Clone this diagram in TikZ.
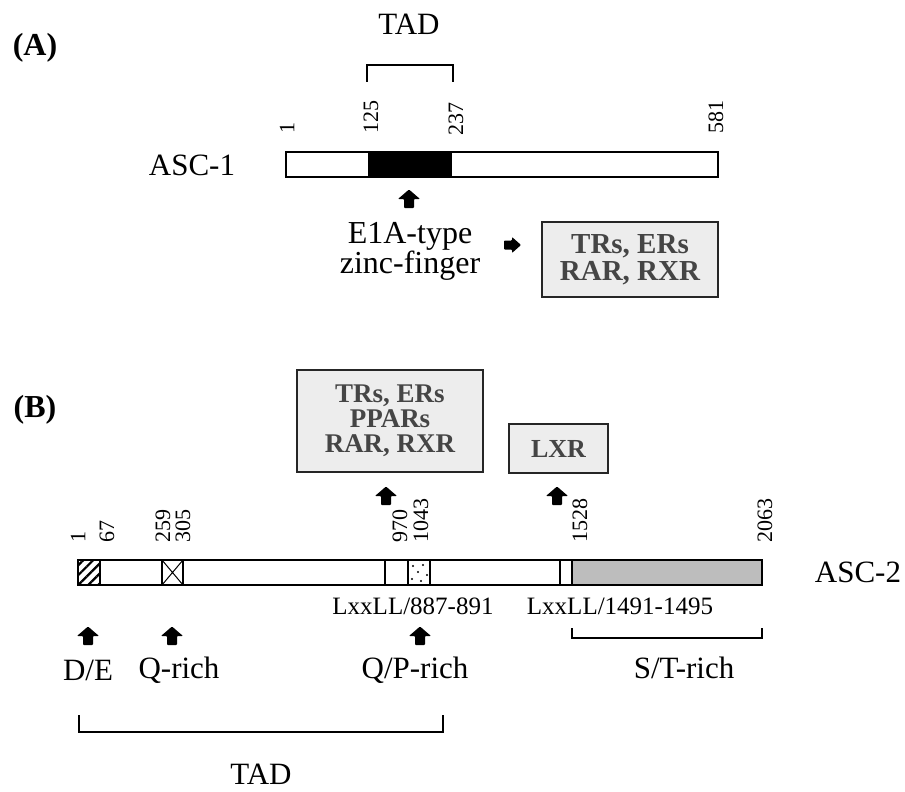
\documentclass[tikz,border=0pt]{standalone}
\usepackage{fontspec}
\setmainfont{Liberation Serif}
\usetikzlibrary{patterns.meta}
\definecolor{boxtext}{HTML}{454545}
\definecolor{boxfill}{HTML}{EDEDED}
\definecolor{stfill}{HTML}{BDBDBD}
\tikzset{
  lbl/.style={inner sep=0pt, font=\fontsize{31}{31}\selectfont},
  num/.style={inner sep=0pt, rotate=90, anchor=west, font=\fontsize{22}{22}\selectfont},
  part/.style={inner sep=0pt, font=\fontsize{32}{32}\bfseries\selectfont},
  bar/.style={draw=black, line width=2pt},
  brk/.style={draw=black, line width=1.8pt},
  recbox/.style={draw=black!85, line width=2pt, fill=boxfill, text=boxtext, align=center, inner sep=0pt},
}
% fat up arrow centred on a named coordinate
\newcommand{\fatup}[1]{\fill[black,rounded corners=0.8pt] ([shift={(0,-9.5)}]#1) -- ([shift={(11,0)}]#1) -- ([shift={(5,0)}]#1) -- ([shift={(5,9)}]#1) -- ([shift={(-5,9)}]#1) -- ([shift={(-5,0)}]#1) -- ([shift={(-11,0)}]#1) -- cycle;}
\newcommand{\fatright}[1]{\fill[black,rounded corners=0.8pt] ([shift={(9,0)}]#1) -- ([shift={(0,8)}]#1) -- ([shift={(0,4.5)}]#1) -- ([shift={(-8,4.5)}]#1) -- ([shift={(-8,-4.5)}]#1) -- ([shift={(0,-4.5)}]#1) -- ([shift={(0,-8)}]#1) -- cycle;}
\begin{document}
\begin{tikzpicture}[x=1pt,y=-1pt]
\useasboundingbox (0,0) rectangle (905,792);
% ---------------- (A) ----------------
\node[part] (labA) at (35,48) {(A)};
\node[lbl] (tadA) at (409,24) {TAD};
\coordinate (bA1) at (367,82);
\coordinate (bA2) at (453,82);
\draw[brk] (bA1) -- (367,65) -- (453,65) -- (bA2);
\node[num] (nA1) at (287,134) {1};
\node[num] (nA125) at (371,134) {125};
\node[num] (nA237) at (456,136) {237};
\node[num] (nA581) at (716,134) {581};
\node[lbl] (asc1) at (192,165) {ASC-1};
\fill[black] (368,152) rectangle (452,177);
\draw[bar] (286,152) rectangle (718,177);
\coordinate (arA) at (409,199);
\fatup{arA}
\node[inner sep=0pt, align=center, font=\fontsize{32}{30}\selectfont] (e1a) at (410,251) {E1A-type\\zinc-finger};
\coordinate (arA2) at (512,245);
\fatright{arA2}
\node[recbox, minimum width=176pt, minimum height=75pt, font=\fontsize{29}{27}\bfseries\selectfont] (boxA) at (630,259.5) {TRs, ERs\\RAR, RXR};
% ---------------- (B) ----------------
\node[part] (labB) at (35,410) {(B)};
\node[recbox, minimum width=186pt, minimum height=102pt, font=\fontsize{27}{25}\bfseries\selectfont] (boxB) at (390,421) {TRs, ERs\\PPARs\\RAR, RXR};
\node[recbox, minimum width=99pt, minimum height=49pt, font=\fontsize{26}{26}\bfseries\selectfont] (lxr) at (558.5,448.5) {LXR};
\coordinate (arB1) at (386,496);
\coordinate (arB2) at (557,496);
\fatup{arB1}
\fatup{arB2}
\node[num] (nB1) at (78,543) {1};
\node[num] (nB67) at (107,543) {67};
\node[num] (nB259) at (163,543) {259};
\node[num] (nB305) at (183,543) {305};
\node[num] (nB970) at (400,543) {970};
\node[num] (nB1043) at (421,543) {1043};
\node[num] (nB1528) at (580,543) {1528};
\node[num] (nB2063) at (765,543) {2063};
% bar B
\fill[stfill] (572,560) rectangle (762,585);
\fill[pattern={Lines[angle=45,distance=7pt,line width=2.2pt]}] (78,560) rectangle (100,585);
\draw[line width=1.6pt] (78,560) rectangle (100,585);
\draw[line width=1.6pt] (162,560) rectangle (183,585);
\draw[line width=1pt] (162,560) -- (183,585) (162,585) -- (183,560);
\draw[line width=1.6pt] (408,560) rectangle (430,585);
\foreach \p in {(413,566),(423,565),(418,572),(427,575),(412,579),(421,581)} \fill \p circle (1.1pt);
\draw[line width=1.6pt] (385,560) -- (385,585);
\draw[line width=1.6pt] (560,560) -- (560,585);
\draw[line width=1.6pt] (572,560) -- (572,585);
\draw[bar] (78,560) rectangle (762,585);
\node[lbl] (asc2) at (858,572) {ASC-2};
\node[inner sep=0pt, font=\fontsize{25}{25}\selectfont] (lx1) at (413,606) {LxxLL/887-891};
\node[inner sep=0pt, font=\fontsize{25}{25}\selectfont] (lx2) at (620,606) {LxxLL/1491-1495};
\coordinate (arDE) at (88,636);
\coordinate (arQ) at (172,636);
\coordinate (arQP) at (420,636);
\fatup{arDE}
\fatup{arQ}
\fatup{arQP}
\node[lbl] (de) at (88,670) {D/E};
\node[lbl] (qr) at (179,670) {Q-rich};
\node[lbl] (qpr) at (415,670) {Q/P-rich};
\node[lbl] (str) at (684,668) {S/T-rich};
\coordinate (st1) at (572,628);
\coordinate (st2) at (762,628);
\draw[brk] (st1) -- (572,638) -- (762,638) -- (st2);
\coordinate (tb1) at (79,715);
\coordinate (tb2) at (443,715);
\draw[brk] (tb1) -- (79,732) -- (443,732) -- (tb2);
\node[lbl] (tadB) at (261,774) {TAD};
\end{tikzpicture}
\end{document}
